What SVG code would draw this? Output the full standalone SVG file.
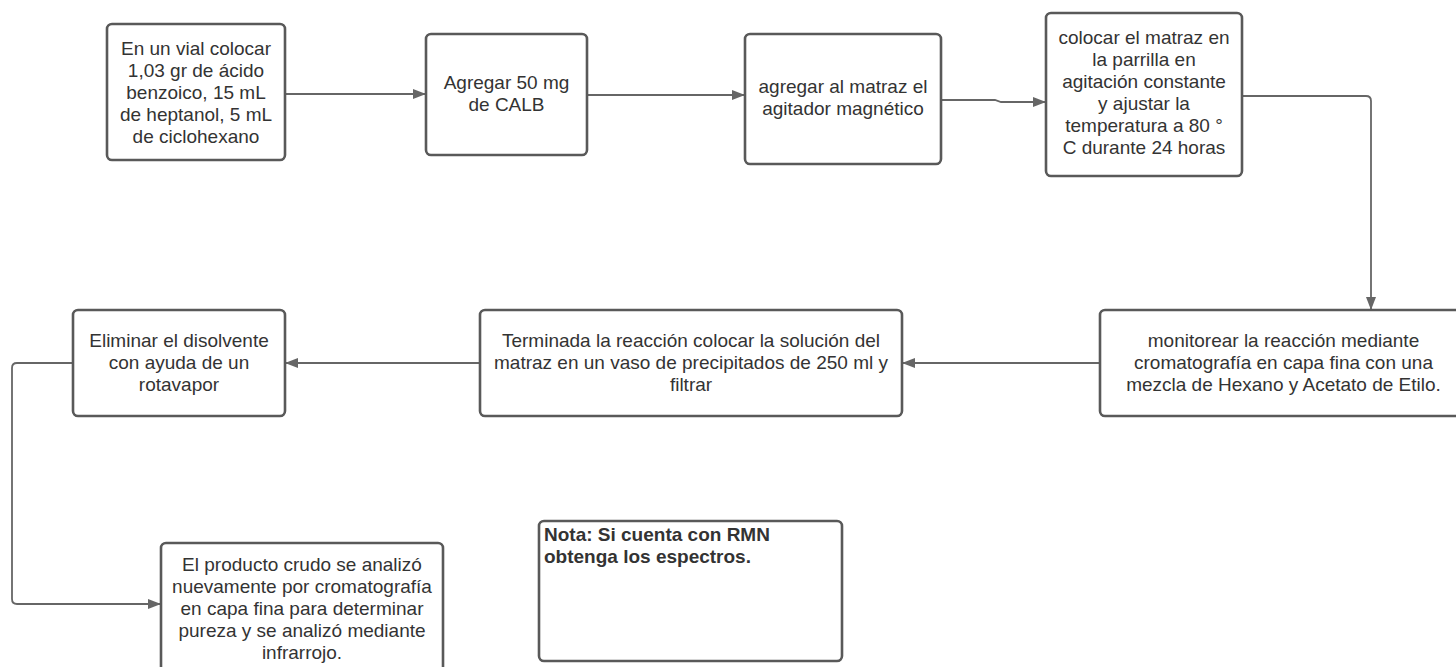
<svg xmlns="http://www.w3.org/2000/svg" width="1456" height="667" viewBox="0 0 1456 667">
<defs>
<marker id="arr" markerUnits="userSpaceOnUse" markerWidth="14" markerHeight="12" refX="13" refY="6" orient="auto">
<path d="M0,1 L13,6 L0,11 Z" fill="#666"/>
</marker>
<style>
.box{fill:#fff;stroke:#595959;stroke-width:2.6}
.t{font-family:"Liberation Sans",Arial,sans-serif;font-size:19px;fill:#333;text-anchor:middle}
.b{font-family:"Liberation Sans",Arial,sans-serif;font-size:19px;fill:#333;font-weight:bold}
.c{fill:none;stroke:#666;stroke-width:1.8;marker-end:url(#arr)}
</style>
</defs>
<rect width="1456" height="667" fill="#fff"/>
<g id="connectors">
<path class="c" d="M285 94 H426"/>
<path class="c" d="M587 95 H745"/>
<path class="c" d="M941 100 H995 L1001 102 H1046"/>
<path class="c" d="M1242 96 H1366 Q1371 96 1371 101 V310"/>
<path class="c" d="M1100 363 H902"/>
<path class="c" d="M480 363 H285"/>
<path class="c" d="M73 363 H17 Q12 363 12 368 V599 Q12 604 17 604 H161"/>
</g>
<g id="n1">
<rect class="box" x="107" y="24" width="178" height="136" rx="5"/>
<text class="t" x="196" y="54.5">En un vial colocar</text>
<text class="t" x="196" y="76.5">1,03 gr de ácido</text>
<text class="t" x="196" y="98.5">benzoico, 15 mL</text>
<text class="t" x="196" y="120.5">de heptanol, 5 mL</text>
<text class="t" x="196" y="142.5">de ciclohexano</text>
</g>
<g id="n2">
<rect class="box" x="426" y="34" width="161" height="121" rx="5"/>
<text class="t" x="506.5" y="88.5">Agregar 50 mg</text>
<text class="t" x="506.5" y="110.5">de CALB</text>
</g>
<g id="n3">
<rect class="box" x="745" y="34" width="196" height="130" rx="5"/>
<text class="t" x="843" y="92.5">agregar al matraz el</text>
<text class="t" x="843" y="114.5">agitador magnético</text>
</g>
<g id="n4">
<rect class="box" x="1046" y="13" width="196" height="163" rx="5"/>
<text class="t" x="1144" y="43.5">colocar el matraz en</text>
<text class="t" x="1144" y="65.5">la parrilla en</text>
<text class="t" x="1144" y="87.5">agitación constante</text>
<text class="t" x="1144" y="109.5">y ajustar la</text>
<text class="t" x="1144" y="131.5">temperatura a 80 °</text>
<text class="t" x="1144" y="153.5">C durante 24 horas</text>
</g>
<g id="n5">
<rect class="box" x="1100" y="310" width="367" height="106" rx="5"/>
<text class="t" x="1283.5" y="346.5">monitorear la reacción mediante</text>
<text class="t" x="1283.5" y="368.5">cromatografía en capa fina con una</text>
<text class="t" x="1283.5" y="390.5">mezcla de Hexano y Acetato de Etilo.</text>
</g>
<g id="n6">
<rect class="box" x="480" y="310" width="422" height="106" rx="5"/>
<text class="t" x="691" y="346.5">Terminada la reacción colocar la solución del</text>
<text class="t" x="691" y="368.5">matraz en un vaso de precipitados de 250 ml y</text>
<text class="t" x="691" y="390.5">filtrar</text>
</g>
<g id="n7">
<rect class="box" x="73" y="310" width="212" height="106" rx="5"/>
<text class="t" x="179" y="346.5">Eliminar el disolvente</text>
<text class="t" x="179" y="368.5">con ayuda de un</text>
<text class="t" x="179" y="390.5">rotavapor</text>
</g>
<g id="n8">
<rect class="box" x="161" y="543" width="282" height="140" rx="5"/>
<text class="t" x="302" y="570.5">El producto crudo se analizó</text>
<text class="t" x="302" y="592.5">nuevamente por cromatografía</text>
<text class="t" x="302" y="614.5">en capa fina para determinar</text>
<text class="t" x="302" y="636.5">pureza y se analizó mediante</text>
<text class="t" x="302" y="658.5">infrarrojo.</text>
</g>
<g id="nota">
<rect class="box" x="539" y="521" width="303" height="140" rx="5"/>
<text class="b" x="544" y="541">Nota: Si cuenta con RMN</text>
<text class="b" x="544" y="563">obtenga los espectros.</text>
</g>
</svg>
